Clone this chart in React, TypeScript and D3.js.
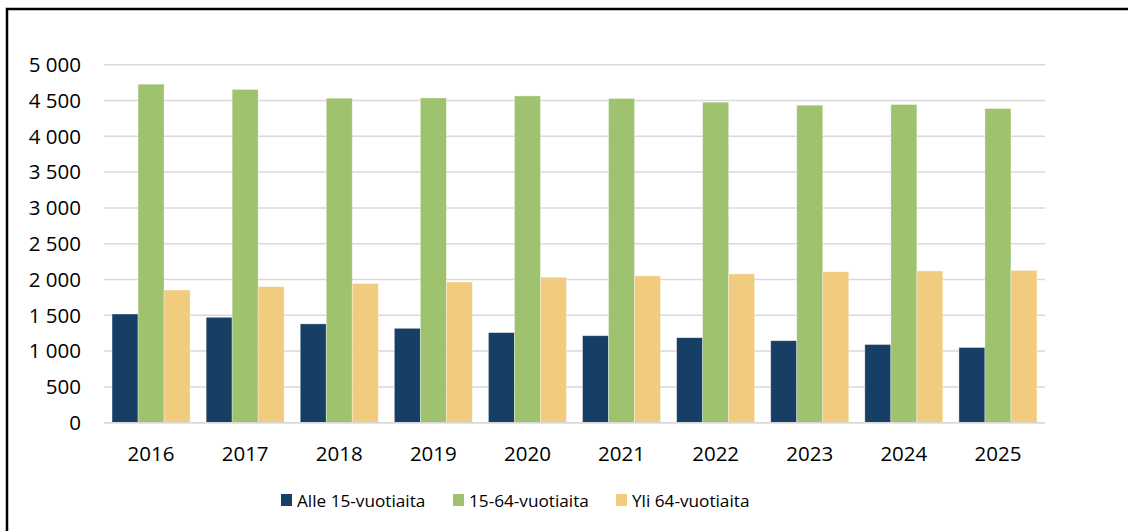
import React from "react";
import * as d3 from "d3";

const years = ["2016", "2017", "2018", "2019", "2020", "2021", "2022", "2023", "2024", "2025"];
const seriesNames = ["Alle 15-vuotiaita", "15-64-vuotiaita", "Yli 64-vuotiaita"];
const under15 = [1518, 1472, 1380, 1318, 1258, 1215, 1187, 1145, 1092, 1050];
const age15to64 = [4728, 4654, 4532, 4536, 4564, 4528, 4476, 4434, 4444, 4388];
const over64 = [1853, 1900, 1944, 1966, 2032, 2051, 2079, 2107, 2120, 2127];
const yTicks = [0, 500, 1000, 1500, 2000, 2500, 3000, 3500, 4000, 4500, 5000];
const colors = ["#173f66", "#9fc26f", "#f2cc7e"];

const W = 1128;
const H = 531;
const FONT = "'Open Sans', 'Noto Sans', sans-serif";

export default function App() {
  const series = [under15, age15to64, over64];
  const x = d3.scaleBand<string>().domain(years).range([104, 1045]).paddingInner(0.171).paddingOuter(0.0855);
  const xs = d3.scaleBand<number>().domain([0, 1, 2]).range([0, x.bandwidth()]);
  const y = d3.scaleLinear().domain([0, 5000]).range([422.7, 64.7]);
  const fmt = (v: number) => d3.format(",")(v).replace(/,/g, " ");

  const legendX = [281, 453, 616];

  return (
    <svg
      width={W}
      height={H}
      style={{ position: "absolute", left: 0, top: 0, background: "#fff" }}
      fontFamily={FONT}
    >
      <rect x={0} y={0} width={W} height={H} fill="#fff" />
      <rect x={7} y={9} width={W + 20} height={H + 20} fill="none" stroke="#000" strokeWidth={2.5} />
      {yTicks.map((t) => (
        <g key={t}>
          <line x1={104} x2={1045} y1={y(t)} y2={y(t)} stroke="#d9d9d9" strokeWidth={1.5} />
          <text x={81} y={y(t)} dy="0.36em" textAnchor="end" fontSize={20.5} fill="#000">
            {fmt(t)}
          </text>
        </g>
      ))}
      {years.map((yr, i) => (
        <g key={yr} transform={`translate(${x(yr)},0)`}>
          {series.map((s, k) => (
            <rect
              key={k}
              x={xs(k)}
              y={y(s[i])}
              width={xs.bandwidth()}
              height={y(0) - y(s[i])}
              fill={colors[k]}
              stroke="#fff"
              strokeOpacity={0.45}
              strokeWidth={0.75}
            />
          ))}
          <text x={x.bandwidth() / 2} y={461} textAnchor="middle" fontSize={20.5} fill="#000">
            {yr}
          </text>
        </g>
      ))}
      <line x1={104} x2={1045} y1={y(0)} y2={y(0)} stroke="#d9d9d9" strokeWidth={1.5} />
      {seriesNames.map((name, k) => (
        <g key={name} transform={`translate(${legendX[k]},0)`}>
          <rect x={0} y={494} width={11} height={12} fill={colors[k]} />
          <text x={16} y={506.5} fontSize={17.2} fill="#000">
            {name}
          </text>
        </g>
      ))}
    </svg>
  );
}
